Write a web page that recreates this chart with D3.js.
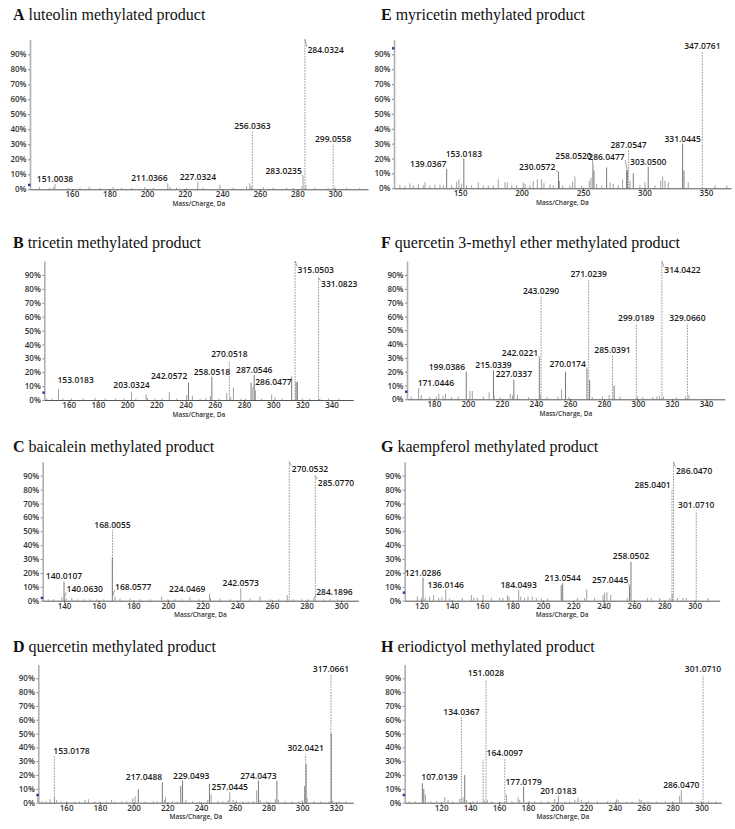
<!DOCTYPE html>
<html><head><meta charset="utf-8">
<script src="https://cdn.jsdelivr.net/npm/d3@7"></script>
<style>body{margin:0;background:#fff}</style>
</head><body>
<svg id="c" width="735" height="829" xmlns="http://www.w3.org/2000/svg"></svg>
<script>
// ---------- DATA ----------
const yTicks = [0,10,20,30,40,50,60,70,80,90];
const panelKeys = ['A','B','C','D','E','F','G','H'];
const panelTitles = ['luteolin methylated product','tricetin methylated product','baicalein methylated product',
  'quercetin methylated product','myricetin methylated product','quercetin 3-methyl ether methylated product',
  'kaempferol methylated product','eriodictyol methylated product'];
const xTitle = 'Mass/Charge, Da';

const xTicksA = [160,180,200,220,240,260,280,300];
const xTicksB = [160,180,200,220,240,260,280,300,320,340];
const xTicksC = [140,160,180,200,220,240,260,280,300];
const xTicksD = [160,180,200,220,240,260,280,300,320];
const xTicksE = [150,200,250,300,350];
const xTicksF = [180,200,220,240,260,280,300,320,340];
const xTicksG = [120,140,160,180,200,220,240,260,280,300];
const xTicksH = [120,140,160,180,200,220,240,260,280,300];

const markerLevels = [2.9,5.3,2,5.6,94,5.5,5.8,5.6];

const peaksA = [[142.7,1.5],[148,1],[150.1,1.5],[151.0038,3.5],[158.1,1],[164.3,1],[169.2,1.5],[174.9,1],[182,1.5],[186.5,1],[191.8,1],[198.9,1.5],[203.3,1],[211.0366,4],[212.2,1.5],[215.7,1],[221,1],[227.0324,5],[229.9,1],[238.8,3],[245.8,1],[253,2],[254.7,4],[255.5,2],[256.0363,39],[261.8,1.5],[267.1,1],[274.2,1],[277.8,1],[282.5,2],[283.0235,8],[284.0324,100],[284.5,3],[289.3,1],[296.4,1],[299.0558,30],[299.9,1.5],[306.2,1],[313.2,1]];
const labelsA = ['151.0038','211.0366','227.0324','256.0363','283.0235','284.0324','299.0558'];

const peaksB = [[145,1],[148.5,1],[153.0183,8],[156,1],[162,1],[170,1],[178,1.5],[185,1],[192,1],[198,1],[203.0324,6],[206,1],[213,4],[214,1.5],[219,1],[224,1],[228.9,5.5],[234,1],[240.8,3.5],[242.0572,12.5],[244.7,3],[250,1],[254,1.5],[257,3],[258.0518,16.8],[263,1],[268.2,5],[270.0518,28],[271,2],[272.8,9],[278,1],[281,1],[284.9,12.5],[286.0477,8],[287.0546,18],[287.9,7],[292,1],[299,4],[301.3,2],[306,1],[312.7,16.8],[315.0503,100],[315.7,13],[316.6,13],[320,1],[325,1],[331.0823,88],[332,1],[338,1],[345,1]];
const labelsB = ['153.0183','203.0324','242.0572','258.0518','270.0518','287.0546','286.0477','315.0503','331.0823'];

const peaksC = [[128,2],[131,1],[134,1],[138.7,2.5],[140.0107,13.7],[140.0630,2],[141.2,2],[144.5,2],[148,1],[151.2,1],[155,1],[158.9,1],[163,1],[167.9,31],[168.0055,51],[168.0577,3],[169.5,3],[172.3,1.5],[178.1,1.5],[183.9,1],[190,1],[196.4,3],[200,1],[204.1,1],[208,1],[212.7,2.5],[218,1],[224.0469,5],[224.6,2],[230.1,1.5],[236,1],[242.0573,9],[247.4,1.5],[253.2,3],[259,1],[264,1],[268.9,4],[270.0532,100],[272.4,1],[277.2,1],[281,1],[284.1896,1.2],[285.0770,90],[289.7,1],[293.6,1],[298,1]];
const labelsC = ['140.0107','140.0630','168.0055','168.0577','224.0469','242.0573','270.0532','285.0770','284.1896'];

const peaksD = [[143.2,5.5],[145.6,1],[148,1],[150.5,2.5],[153.0178,34],[153.1,4],[154.4,2],[157,1],[160.4,1],[165.3,1],[168,1],[171.2,2],[173.2,2.5],[177,1],[180.1,1],[184,1],[187,2],[189,1],[193,1],[195.9,1],[199.5,3],[200.9,4.5],[202.8,9.7],[207,1],[211.7,1],[214,1],[217.0488,15],[218.2,2],[219,4],[223,1],[226,1],[228,12],[229.0493,16],[231,2],[235,1],[239,1],[244,2],[245,13.5],[246,6],[250,1],[253,1],[256,2],[257.0445,7.5],[259,2],[261,1.5],[265,1],[268,1],[271,1],[273,9],[274.0473,16],[275,2],[279,1],[284,2.5],[285,16],[286,2],[290,1],[294,1],[298,1],[300,2],[301.5,12],[302.0421,35],[302.3,28],[303,3],[307,1],[311,1],[316,1],[317.0661,93],[317.2,50],[318,1.5],[322,1],[326,1]];
const labelsD = ['153.0178','217.0488','229.0493','257.0445','274.0473','302.0421','317.0661'];

const peaksE = [[101,2.2],[105.1,1.7],[109.2,3.3],[111.9,2],[116,2.7],[120,2],[121.4,4],[125.4,2],[129.5,2.5],[133.6,2.5],[136.3,2],[139.0367,13],[143.1,2],[147.2,4.5],[149,6],[151.2,3],[153.0183,20],[155.3,2],[159.4,2],[164.8,4],[168.8,2],[172.9,2],[177,2],[181,6],[186.5,4],[188.4,4],[192,2],[196,2],[201.4,4],[202.8,3],[206.8,2],[209.5,5],[212.8,6],[216.3,6],[218.2,3.5],[223.1,2.5],[225.8,2],[230.0572,11],[230.9,5],[233.4,2],[239.4,2],[241.6,4.5],[243.4,8],[249,2],[255.1,5],[256.5,7],[258.0520,16],[258.9,12],[261.1,3],[265.2,2],[269.2,14],[272,4],[274.6,3],[278.7,2],[282.2,6],[285.5,12],[286.0477,12],[287.0547,26],[288.2,5],[290.9,10],[296.3,2],[300.4,4],[303.0500,14.5],[308.5,2],[313.2,5],[314.8,8],[316.7,5],[319.4,4],[331.0445,30],[332.1,12],[335.6,4],[347.0761,92],[357.4,2],[367,2]];
const labelsE = ['139.0367','153.0183','230.0572','258.0520','286.0477','287.0547','303.0500','331.0445','347.0761'];

const peaksF = [[166.7,2],[171.0446,8],[172.6,3],[177.5,1.5],[181.4,2],[182.9,4],[185.4,2.5],[186.8,4],[190.3,1.5],[194.3,2],[199.0386,20],[201.2,6],[202.6,6],[209.1,2],[212.5,5],[215.0339,21],[215.4,3],[218.9,1.5],[224.9,4],[226.2,3],[227.0337,14],[229.2,3],[235.7,1.5],[242.0221,30],[242.6,3],[243.0290,75],[246.5,1.5],[253,2],[255.1,7],[257.4,20],[259.4,1.5],[270.0174,22],[271.0239,87],[271.6,14],[273.2,1.5],[279.1,2],[283.1,3],[285.0391,32],[286,10],[289.4,2],[299.0189,55],[299.8,2],[302.8,1.5],[308.7,1.5],[311.1,2],[312.6,2.5],[314.0422,100],[315,2],[322.5,1.5],[328,2],[329.0660,55],[330,3]];
const labelsF = ['171.0446','199.0386','215.0339','227.0337','242.0221','243.0290','270.0174','271.0239','285.0391','299.0189','314.0422','329.0660'];

const peaksG = [[117.3,3],[119.9,2],[121.0286,16.5],[122.5,2],[125.4,3],[128,4],[131.4,2],[133.5,2.5],[136.0146,8],[138.6,1.5],[146.9,2],[152.9,4],[154.6,2],[156.8,2],[160.6,4],[166,2],[171.5,2],[173.7,2],[176.6,4],[177.7,3],[184.0493,8],[185.4,3],[188,2],[190.2,3],[193,3],[195.7,2],[199,1.5],[203,1.5],[212.1,11],[213.0544,12.5],[222.7,2],[227.5,2],[228.9,8],[234.1,2],[239.6,4],[240.7,6],[242.2,6],[244.7,4],[255.6,2],[257.0445,10],[258.0502,28],[268.8,2],[271.4,2],[277,2],[283.6,2],[285.0401,80],[285.2,5],[286.0470,100],[288.6,2],[292.3,2],[294.5,2],[301.0710,65],[308.8,2]];
const labelsG = ['121.0286','136.0146','184.0493','213.0544','257.0445','258.0502','285.0401','286.0470','301.0710'];

const peaksH = [[95.3,1],[98,1],[102,1],[107.0139,14],[108,10],[109.1,6],[113,1],[117,1],[122.5,4],[124.8,2],[128,1],[132.9,3],[134.0367,62],[135.1,4],[136.3,20],[137.4,2],[142,1],[145,1],[149,31],[149.7,2],[151.0028,89],[151.9,2],[155,1],[160.5,1],[164.0097,32],[165.1,6],[169,1],[173.2,4],[174.3,2],[177.0179,11.5],[181,1],[184.7,1],[189.3,1],[194,1],[198.5,2.5],[201.0183,5],[205.5,1],[209,1],[212.4,2],[214.6,3.5],[216.9,2],[222,1],[228,1],[235,1],[241.1,2.5],[242.3,2],[248,1],[252,1],[257.3,2.5],[258.4,2],[263,1],[268.8,1],[275,1],[280,1],[284.9,5],[286.0470,9],[293,1],[299.9,1],[301.0710,92],[305,1],[310,1]];
const labelsH = ['107.0139','134.0367','151.0028','164.0097','177.0179','201.0183','286.0470','301.0710'];

const peakSets = [peaksA,peaksB,peaksC,peaksD,peaksE,peaksF,peaksG,peaksH];
const labelSets = [labelsA,labelsB,labelsC,labelsD,labelsE,labelsF,labelsG,labelsH];
const tickSets = [xTicksA,xTicksB,xTicksC,xTicksD,xTicksE,xTicksF,xTicksG,xTicksH];

// ---------- LAYOUT (positions / styles) ----------
const layout = {
  A:{x0:30,  x1:368,  y0:189.3, y100:39.3,  dom:[137.7,317.6], tx:13,  ty:20},
  B:{x0:44.3,x1:353.3,y0:400,   y100:261.1, dom:[143.3,354.9], tx:13,  ty:248},
  C:{x0:42.7,x1:358.3,y0:600.7, y100:461.8, dom:[127.7,309.9], tx:13,  ty:452},
  D:{x0:38.3,x1:353.3,y0:802.7, y100:664.5, dom:[143.5,330.3], tx:13,  ty:652},
  E:{x0:394, x1:731,  y0:188.3, y100:39.4,  dom:[96.2,370.4],  tx:381, ty:20},
  F:{x0:407, x1:724.7,y0:399.3, y100:261.2, dom:[164.2,351],   tx:381, ty:248},
  G:{x0:404.7,x1:719.7,y0:600.7,y100:461.8, dom:[108.98,316.5],tx:381, ty:452},
  H:{x0:404.7,x1:721.3,y0:802.7,y100:664.5, dom:[94.8,313.7],  tx:381, ty:652}
};
// [anchor type, dy, connector, dashed, dx]
const place = {
  A:{'151.0038':['c'],'211.0366':['l',0,0,0,1],'227.0324':['c'],'256.0363':['c',0,0,1],'283.0235':['l',-1,1],'284.0324':['r',16,1,1],'299.0558':['c',0,0,1]},
  B:{'153.0183':['r',-4],'203.0324':['c',-1.5],'242.0572':['l',-2],'258.0518':['c'],'270.0518':['c',-2,0,1],'287.0546':['c'],'286.0477':['r',-2,1],'315.0503':['r',14,1,1],'331.0823':['r',11.5,1,1]},
  C:{'140.0107':['c',-1],'140.0630':['r',-4,1],'168.0055':['c',0,0,1],'168.0577':['r',-5,1],'224.0469':['l',0,0,0,-3],'242.0573':['c'],'270.0532':['r',12.5,1,1],'285.0770':['r',12,1,1],'284.1896':['r',-2.3,1]},
  D:{'153.0178':['r',0,0,1],'217.0488':['l',0,0,0,1],'229.0493':['c',0,0,0,8.7],'257.0445':['c'],'274.0473':['c'],'302.0421':['c',-1,0,1],'317.0661':['c',0,0,1]},
  E:{'139.0367':['l',0,0,0,1],'153.0183':['c'],'230.0572':['l',0,1,0,-2],'258.0520':['l',-3.8,1],'286.0477':['l',-8.7,1,0,-1.5],'287.0547':['c',0,0,1],'303.0500':['c'],'331.0445':['c'],'347.0761':['c',0,0,1]},
  F:{'171.0446':['r'],'199.0386':['l'],'215.0339':['c'],'227.0337':['c',-1],'242.0221':['l',0,1],'243.0290':['c',0,0,1],'270.0174':['l',0,1],'271.0239':['c',0,0,1],'285.0391':['c',0,0,1],'299.0189':['c',0,0,1],'314.0422':['r',14,1,1],'329.0660':['c',0,0,1]},
  G:{'121.0286':['c'],'136.0146':['c'],'184.0493':['c'],'213.0544':['c'],'257.0445':['l',-1.8,1],'258.0502':['c',-1],'285.0401':['l',0,0,1],'286.0470':['r',14,1,1],'301.0710':['c',0,0,1]},
  H:{'107.0139':['r',-1.7],'134.0367':['c',0,0,1],'151.0028':['c',-1.4,0,1],'164.0097':['c',0,0,1],'177.0179':['c'],'201.0183':['c'],'286.0470':['c'],'301.0710':['c',-1.3,0,1]}
};
const extraDashed = {H:[149]};

const SANS = '"Open Sans", "Noto Sans", sans-serif';
const svg = d3.select('#c');

panelKeys.forEach((key, i) => {
  const L = layout[key];
  const peaks = peakSets[i];
  const x = d3.scaleLinear().domain(L.dom).range([L.x0, L.x1]);
  const y = d3.scaleLinear().domain([0,100]).range([L.y0, L.y100]);
  const g = svg.append('g');

  // title
  const t = g.append('text').attr('x', L.tx).attr('y', L.ty)
    .attr('font-family','"Liberation Serif", "DejaVu Serif", serif').attr('font-size',16).attr('fill','#111');
  t.append('tspan').attr('font-weight','bold').text(key);
  t.append('tspan').text(' ' + panelTitles[i]);

  // dashed set
  const pl = place[key];
  const dashedSet = new Set();
  Object.keys(pl).forEach(k => { if (pl[k][3]) dashedSet.add(+k); });
  (extraDashed[key] || []).forEach(v => dashedSet.add(v));
  const isDashed = d => [...dashedSet].some(v => Math.abs(v - d[0]) < 1e-6);

  // peaks: dashed first, then solid
  const pk = g.append('g');
  pk.selectAll('line.d').data(peaks.filter(isDashed)).join('line').attr('class','d')
    .attr('x1', d => x(d[0])).attr('x2', d => x(d[0]))
    .attr('y1', y(0)).attr('y2', d => y(d[1]))
    .attr('stroke','#8a8a8a').attr('stroke-width',0.9).attr('stroke-dasharray','1.6,1.2');
  pk.selectAll('line.s').data(peaks.filter(d => !isDashed(d))).join('line').attr('class','s')
    .attr('x1', d => x(d[0])).attr('x2', d => x(d[0]))
    .attr('y1', y(0)).attr('y2', d => y(d[1]))
    .attr('stroke', d => d[1] > 9 ? '#7a7a7a' : '#a0a0a0').attr('stroke-width',1);

  // y axis
  const ya = d3.axisLeft(y).tickValues(yTicks).tickFormat(d => d + '%').tickSize(2).tickSizeOuter(0).tickPadding(1.5);
  const yg = g.append('g').attr('transform', `translate(${L.x0},0)`).call(ya);
  yg.select('.domain').attr('stroke','#b0b0b0').attr('stroke-width',1.6);
  yg.selectAll('.tick line').attr('stroke','#888');
  yg.selectAll('text').attr('font-family', SANS).attr('font-size', 8).attr('font-weight', 600).attr('fill','#333');

  // x axis
  const xa = d3.axisBottom(x).tickValues(tickSets[i]).tickSize(2).tickSizeOuter(0).tickPadding(0.5);
  const xg = g.append('g').attr('transform', `translate(0,${L.y0})`).call(xa);
  xg.select('.domain').attr('stroke','#555').attr('stroke-width',1);
  xg.selectAll('.tick line').attr('stroke','#555');
  xg.selectAll('text').attr('font-family', SANS).attr('font-size', 8).attr('font-weight', 600).attr('fill','#333');

  // axis title
  g.append('text').attr('x', (L.x0 + L.x1) / 2).attr('y', L.y0 + 16.5).attr('text-anchor','middle')
    .attr('font-family', SANS).attr('font-size', 6.5).attr('font-weight', 600).attr('fill','#333').text(xTitle);

  // threshold marker
  g.append('rect').attr('x', L.x0 - 2).attr('y', y(markerLevels[i]) - 1.2).attr('width', 2.5).attr('height', 2.4).attr('fill', '#2a3c9a');

  // labels
  labelSets[i].forEach(lab => {
    const mz = +lab;
    const p = peaks.find(d => Math.abs(d[0] - mz) < 1e-6);
    const [type, dy = 0, conn = 0, , dx = 0] = pl[lab] || ['c'];
    const px = x(mz), py = y(p[1]);
    const base = py - 2 + dy;
    let lx, anchor;
    if (type === 'c') { lx = px + dx; anchor = 'middle'; }
    else if (type === 'l') { lx = px - 1.2 + dx; anchor = 'end'; }
    else { lx = px + (conn ? 2.5 : -1) + dx; anchor = 'start'; }
    if (conn) {
      const ey = dy > 0 ? base - 6.5 : base + 0.5;
      const ex = type === 'l' ? lx + 0.5 : lx - 0.5;
      g.append('line').attr('x1', px).attr('y1', py).attr('x2', ex).attr('y2', ey)
        .attr('stroke', '#777').attr('stroke-width', 0.7);
    }
    g.append('text').attr('x', lx).attr('y', base).attr('text-anchor', anchor)
      .attr('font-family', SANS).attr('font-size', 8.5).attr('font-weight', 600).attr('fill', '#1a1a1a').text(lab);
  });
});
</script>
</body></html>
